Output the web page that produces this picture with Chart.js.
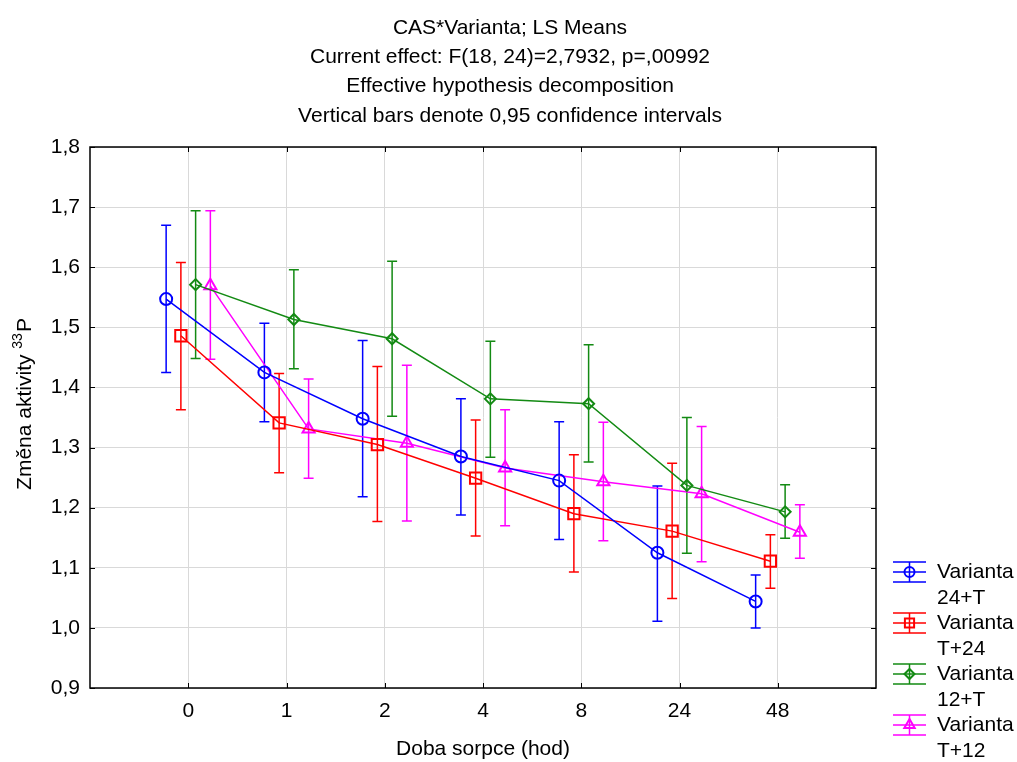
<!DOCTYPE html>
<html>
<head>
<meta charset="utf-8">
<title>CAS*Varianta; LS Means</title>
<script src="https://cdn.jsdelivr.net/npm/chart.js@4/dist/chart.umd.min.js"></script>
<style>
    html, body { margin: 0; padding: 0; background: #fff; }
    #wrap { width: 1017px; height: 762px; }
</style>
</head>
<body>
<div id="wrap"><canvas id="lsMeans"></canvas></div>
<script>
/* DATA */
const categories = ["0", "1", "2", "4", "8", "24", "48"];
const seriesNames = [["Varianta", "24+T"], ["Varianta", "T+24"], ["Varianta", "12+T"], ["Varianta", "T+12"]];
const titleLines = [
    "CAS*Varianta; LS Means",
    "Current effect: F(18, 24)=2,7932, p=,00992",
    "Effective hypothesis decomposition",
    "Vertical bars denote 0,95 confidence intervals"
];

const mean24T = [1.547, 1.425, 1.348, 1.285, 1.245, 1.125, 1.044];
const low24T  = [1.425, 1.343, 1.218, 1.188, 1.147, 1.011, 1.000];
const high24T = [1.670, 1.507, 1.478, 1.381, 1.343, 1.236, 1.088];

const meanT24 = [1.486, 1.341, 1.305, 1.249, 1.190, 1.161, 1.111];
const lowT24  = [1.363, 1.258, 1.177, 1.153, 1.093, 1.049, 1.066];
const highT24 = [1.608, 1.423, 1.435, 1.346, 1.288, 1.274, 1.155];

const mean12T = [1.571, 1.513, 1.481, 1.381, 1.373, 1.237, 1.193];
const low12T  = [1.448, 1.431, 1.352, 1.284, 1.276, 1.124, 1.149];
const high12T = [1.694, 1.596, 1.610, 1.477, 1.471, 1.350, 1.238];

const meanT12 = [1.569, 1.331, 1.307, 1.266, 1.243, 1.223, 1.159];
const lowT12  = [1.447, 1.249, 1.178, 1.170, 1.145, 1.110, 1.116];
const highT12 = [1.694, 1.414, 1.437, 1.363, 1.342, 1.335, 1.205];

const yTicks = [0.9, 1.0, 1.1, 1.2, 1.3, 1.4, 1.5, 1.6, 1.7, 1.8];

/* STYLE */
const FONT = "'Liberation Sans', Arial, sans-serif";
const FS = 21;
Chart.defaults.font.family = FONT;
Chart.defaults.color = "#000";

const series = [
    { mean: mean24T, low: low24T, high: high24T, color: "#0000ff", style: "circle",   radius: 6, legR: 5, shift: -0.225 },
    { mean: meanT24, low: lowT24, high: highT24, color: "#ff0000", style: "rect",     radius: 8, legR: 6.5, shift: -0.075 },
    { mean: mean12T, low: low12T, high: high12T, color: "#138a13", style: "rectRot",  radius: 5.5, legR: 5, shift: 0.075 },
    { mean: meanT12, low: lowT12, high: highT12, color: "#ff00ff", style: "triangle", radius: 7, legR: 6, shift: 0.225 }
];

const datasets = series.map((s, k) => ({
    label: seriesNames[k].join(" "),
    data: s.mean.map((v, i) => ({ x: i + s.shift, y: v })),
    borderColor: s.color,
    borderWidth: 1.5,
    pointStyle: s.style,
    pointRadius: s.radius,
    pointBorderWidth: 2,
    pointBackgroundColor: "rgba(0,0,0,0)",
    pointBorderColor: s.color,
    tension: 0
}));

/* ERROR BARS - drawn under the markers */
const errorBars = {
    id: "errorBars",
    beforeDatasetsDraw(chart) {
        const { ctx, scales: { x, y } } = chart;
        ctx.save();
        ctx.lineWidth = 1.5;
        series.forEach(s => {
            ctx.strokeStyle = s.color;
            s.mean.forEach((v, i) => {
                const px = x.getPixelForValue(i + s.shift);
                const top = y.getPixelForValue(s.high[i]);
                const bot = y.getPixelForValue(s.low[i]);
                ctx.beginPath();
                ctx.moveTo(px, top); ctx.lineTo(px, bot);
                ctx.moveTo(px - 5, top); ctx.lineTo(px + 5, top);
                ctx.moveTo(px - 5, bot); ctx.lineTo(px + 5, bot);
                ctx.stroke();
            });
        });
        ctx.restore();
    }
};

/* FRAME with inward ticks on all four sides */
const frame = {
    id: "frame",
    afterDatasetsDraw(chart) {
        const { ctx, chartArea: a, scales: { x, y } } = chart;
        ctx.save();
        ctx.strokeStyle = "#000";
        ctx.lineWidth = 1.5;
        ctx.strokeRect(a.left, a.top, a.right - a.left, a.bottom - a.top);
        ctx.lineWidth = 1;
        ctx.beginPath();
        y.ticks.forEach(t => {
            const py = Math.round(y.getPixelForValue(t.value)) + 0.5;
            ctx.moveTo(a.left, py); ctx.lineTo(a.left + 5, py);
            ctx.moveTo(a.right, py); ctx.lineTo(a.right - 5, py);
        });
        x.ticks.forEach(t => {
            const px = Math.round(x.getPixelForValue(t.value)) + 0.5;
            ctx.moveTo(px, a.bottom); ctx.lineTo(px, a.bottom - 5);
            ctx.moveTo(px, a.top); ctx.lineTo(px, a.top + 5);
        });
        ctx.stroke();
        ctx.restore();
    }
};

/* TEXT - multi-line title and y title with superscript */
const texts = {
    id: "texts",
    afterDraw(chart) {
        const { ctx } = chart;
        ctx.save();
        ctx.fillStyle = "#000";
        ctx.font = FS + "px " + FONT;
        ctx.textAlign = "center";
        ctx.textBaseline = "middle";
        titleLines.forEach((t, i) => ctx.fillText(t, 510, 28 + i * 29.3));

        // y axis title, rotated, with raised "33"
        const main = "Změna aktivity ", sup = "33", tail = "P";
        ctx.font = FS + "px " + FONT;
        const w1 = ctx.measureText(main).width, w3 = ctx.measureText(tail).width;
        ctx.font = "14px " + FONT;
        const w2 = ctx.measureText(sup).width + 1;
        const total = w1 + w2 + w3;
        ctx.translate(25, 404);
        ctx.rotate(-Math.PI / 2);
        ctx.textAlign = "left";
        let sx = -total / 2;
        ctx.font = FS + "px " + FONT;
        ctx.fillText(main, sx, 0);
        ctx.font = "14px " + FONT;
        ctx.fillText(sup, sx + w1, -7);
        ctx.font = FS + "px " + FONT;
        ctx.fillText(tail, sx + w1 + w2, 0);
        ctx.restore();
    }
};

/* LEGEND - sample with error bar and marker, two-line text */
const sideLegend = {
    id: "sideLegend",
    afterDraw(chart) {
        const { ctx } = chart;
        ctx.save();
        ctx.textBaseline = "middle";
        series.forEach((s, k) => {
            const cy = 572 + k * 51;
            const x0 = 893, x1 = 926, cx = (x0 + x1) / 2;
            ctx.strokeStyle = s.color;
            ctx.lineWidth = 1.5;
            ctx.beginPath();
            [-10, 0, 10].forEach(d => { ctx.moveTo(x0, cy + d); ctx.lineTo(x1, cy + d); });
            ctx.moveTo(cx, cy - 10); ctx.lineTo(cx, cy + 10);
            ctx.stroke();
            ctx.lineWidth = 2;
            ctx.fillStyle = "rgba(0,0,0,0)";
            Chart.helpers.drawPoint(ctx, { pointStyle: s.style, radius: s.legR, rotation: 0, borderWidth: 2 }, cx, cy);
            ctx.fillStyle = "#000";
            ctx.font = FS + "px " + FONT;
            ctx.fillText(seriesNames[k][0], 937, cy);
            ctx.fillText(seriesNames[k][1], 937, cy + 26);
        });
        ctx.restore();
    }
};

/* CHART */
new Chart(document.getElementById("lsMeans"), {
    type: "line",
    data: { datasets: datasets },
    plugins: [errorBars, frame, texts, sideLegend],
    options: {
        responsive: true,
        maintainAspectRatio: false,
        animation: false,
        layout: { padding: { left: 0, right: 141, top: 147, bottom: 0 } },
        plugins: {
            legend: { display: false },
            tooltip: { enabled: false }
        },
        scales: {
            x: {
                type: "linear",
                min: -1,
                max: 7,
                afterBuildTicks(scale) {
                    scale.ticks = categories.map((c, i) => ({ value: i }));
                },
                afterFit(scale) { scale.height = 74; },
                ticks: {
                    callback: v => categories[v] ?? "",
                    font: { size: FS },
                    padding: 11,
                    maxRotation: 0
                },
                grid: { color: "#d9d9d9", lineWidth: 1, drawTicks: false },
                border: { display: false },
                title: {
                    display: true,
                    text: "Doba sorpce (hod)",
                    font: { size: FS },
                    padding: { top: 0, bottom: 0 }
                }
            },
            y: {
                min: 0.9,
                max: 1.8,
                afterBuildTicks(scale) {
                    scale.ticks = yTicks.map(v => ({ value: v }));
                },
                afterFit(scale) { scale.width = 90; },
                ticks: {
                    callback: v => v.toFixed(1).replace(".", ","),
                    font: { size: FS },
                    padding: 10
                },
                grid: { color: "#d9d9d9", lineWidth: 1, drawTicks: false },
                border: { display: false }
            }
        }
    }
});
</script>
</body>
</html>
